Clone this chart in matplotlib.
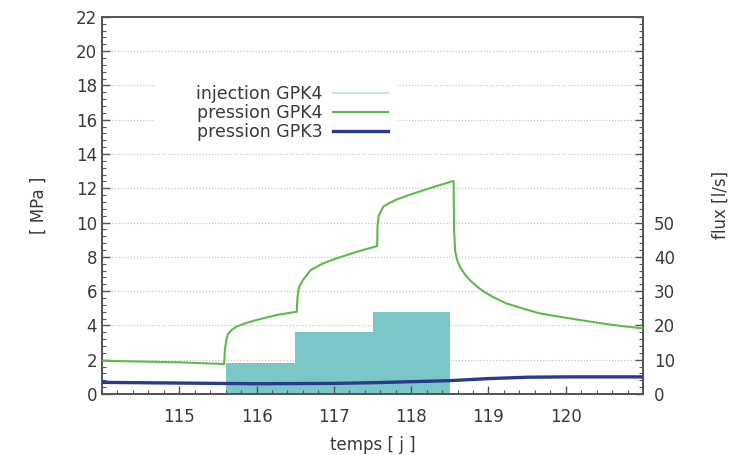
import matplotlib
matplotlib.use("Agg")
import matplotlib.pyplot as plt
from matplotlib.lines import Line2D
from matplotlib.patches import Rectangle
from matplotlib.ticker import MultipleLocator, FixedLocator

# time axis [days]
t_gpk4 = [114.0, 115.0, 115.58, 115.59, 115.61, 115.63, 115.68, 115.74, 115.85,
          116.0, 116.26, 116.52, 116.53, 116.55, 116.6, 116.7, 116.85, 117.0,
          117.3, 117.56, 117.565, 117.58, 117.64, 117.72, 117.82, 118.0, 118.28,
          118.55, 118.555, 118.57, 118.6, 118.64, 118.7, 118.77, 118.85, 118.93,
          119.05, 119.23, 119.45, 119.66, 119.85, 120.0, 120.25, 120.53, 120.75,
          121.0]
p_gpk4 = [1.94, 1.85, 1.75, 2.6, 3.2, 3.5, 3.75, 3.93, 4.12,
          4.32, 4.61, 4.8, 5.7, 6.25, 6.65, 7.23, 7.6, 7.86,
          8.3, 8.63, 9.8, 10.4, 10.93, 11.15, 11.36, 11.65, 12.06,
          12.43, 9.6, 8.3, 7.75, 7.35, 6.95, 6.6, 6.28, 6.0,
          5.68, 5.29, 4.98, 4.71, 4.56, 4.45, 4.27, 4.08, 3.95,
          3.83]

t_gpk3 = [114.0, 115.0, 116.0, 117.0, 117.5, 118.0, 118.5, 119.0, 119.5, 120.0, 121.0]
p_gpk3 = [0.68, 0.64, 0.6, 0.62, 0.66, 0.72, 0.78, 0.9, 0.98, 1.0, 1.0]

# injection steps in GPK4 [l/s]
inj_start = [115.6, 116.5, 117.5]
inj_end = [116.5, 117.5, 118.5]
inj_flux = [9, 18, 24]

text_col = "#3a3a3a"
green = "#5dbb4c"
navy = "#2b3a8c"
teal = "#7bc7c8"
inj_line = "#cfe2df"

plt.rcParams["font.family"] = ["DejaVu Sans"]
plt.rcParams["font.size"] = 12

fig = plt.figure(figsize=(7.34, 4.55), dpi=100)
ax = fig.add_axes([0.139, 0.134, 0.737, 0.829])
ax2 = ax.twinx()

# flux on the right axis, drawn underneath the pressure curves
for a, b, q in zip(inj_start, inj_end, inj_flux):
    ax2.fill_between([a, b], 0, q, color=teal, linewidth=0, zorder=2)
ax2.set_ylim(0, 110)
ax2.yaxis.set_major_locator(MultipleLocator(10))
ax2.yaxis.set_minor_locator(MultipleLocator(2))
ax2.set_yticklabels([f"{v:.0f}" if v <= 50 else "" for v in ax2.get_yticks()])
ax2.grid(True, which="major", color="#c8c8c8", linestyle=(0, (1, 1.5)), linewidth=0.9)
ax2.set_axisbelow(True)
ax2.set_ylabel("flux [l/s]", color=text_col, fontsize=12, labelpad=26)

ax.set_zorder(ax2.get_zorder() + 1)
ax.patch.set_visible(False)

# opaque key background hides the grid behind the legend
ax.add_patch(Rectangle((0.096, 0.666), 0.449, 0.18, transform=ax.transAxes,
                       facecolor="white", edgecolor="none", zorder=1))

ax.plot(t_gpk4, p_gpk4, color=green, linewidth=1.5, zorder=3)
ax.plot(t_gpk3, p_gpk3, color=navy, linewidth=2.4, zorder=3)

ax.set_xlim(114, 121)
ax.set_ylim(0, 22)
ax.xaxis.set_major_locator(FixedLocator([115, 116, 117, 118, 119, 120]))
ax.xaxis.set_minor_locator(MultipleLocator(0.2))
ax.yaxis.set_major_locator(MultipleLocator(2))
ax.yaxis.set_minor_locator(MultipleLocator(0.4))

for a in (ax, ax2):
    a.tick_params(which="both", direction="in", colors="#555555", labelcolor=text_col,
                  labelsize=12, top=False)
    a.tick_params(which="major", length=6, width=1.0)
    a.tick_params(which="minor", length=3, width=0.8)
    for s in a.spines.values():
        s.set_color("#555555")
        s.set_linewidth(1.3)
ax.tick_params(axis="y", which="both", right=False)
ax.tick_params(axis="x", pad=10)
ax2.tick_params(axis="y", pad=8)

ax.set_xlabel("temps [ j ]", color=text_col, fontsize=12, labelpad=7)
ax.set_ylabel("[ MPa ]", color=text_col, fontsize=12, labelpad=20)

handles = [Line2D([], [], color=inj_line, linewidth=1.5),
           Line2D([], [], color=green, linewidth=1.5),
           Line2D([], [], color=navy, linewidth=2.4)]
labels = ["injection GPK4", "pression GPK4", "pression GPK3"]
leg = ax.legend(handles, labels, loc="center right", bbox_to_anchor=(0.529, 0.746),
                frameon=False, markerfirst=False, handlelength=3.2, handletextpad=0.6,
                labelspacing=0.06, borderpad=0, borderaxespad=0, fontsize=12.5)
leg.set_zorder(4)
for txt in leg.get_texts():
    txt.set_color(text_col)

fig.savefig("out.png", dpi=100)
